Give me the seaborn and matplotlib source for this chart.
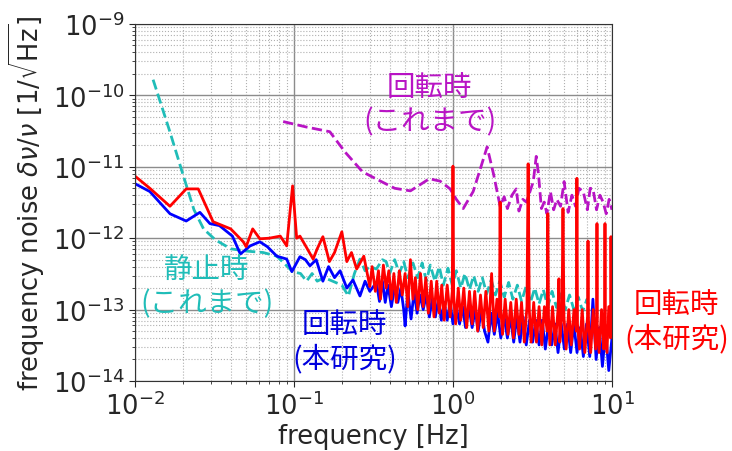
import numpy as np
import matplotlib
matplotlib.use("Agg")
import matplotlib.pyplot as plt
import seaborn as sns

sns.set_style("ticks")
plt.rcParams['font.family'] = ['DejaVu Sans', 'Noto Sans CJK JP']
plt.rcParams['mathtext.fontset'] = 'dejavusans'

JP = ['Noto Sans CJK JP', 'DejaVu Sans']

# --- 回転時(本研究) red ---
red_f = [0.010, 0.0124, 0.0166, 0.021, 0.025, 0.031, 0.040, 0.048, 0.050, 0.055,
         0.061, 0.070, 0.082, 0.090, 0.098, 0.104, 0.109, 0.118, 0.132, 0.140,
         0.152, 0.167, 0.180, 0.200, 0.215, 0.230, 0.248, 0.275,
         0.30, 0.31, 0.325, 0.34, 0.35, 0.365, 0.38, 0.395, 0.41, 0.425,
         0.44, 0.46, 0.48, 0.50, 0.52, 0.54, 0.56, 0.58, 0.60, 0.625,
         0.65, 0.675, 0.70, 0.73, 0.76, 0.79, 0.82, 0.85, 0.88, 0.92,
         0.96, 0.99, 1.00, 1.01, 1.04, 1.08, 1.12, 1.17, 1.22, 1.27,
         1.32, 1.37, 1.43, 1.49, 1.55, 1.61, 1.68, 1.75, 1.82, 1.89,
         1.96, 1.98, 2.00, 2.05, 2.13, 2.22, 2.31, 2.40, 2.50, 2.60,
         2.70, 2.81, 2.92, 2.97, 3.02, 3.10, 3.22, 3.35, 3.48, 3.62,
         3.76, 3.91, 3.95, 3.99, 4.07, 4.23, 4.40, 4.58, 4.64, 4.70,
         4.85, 4.92, 4.99, 5.15, 5.35, 5.55, 5.77, 5.97, 6.02, 6.07,
         6.25, 6.50, 6.75, 7.02, 7.07, 7.12, 7.35, 7.62, 7.90, 8.02,
         8.05, 8.08, 8.30, 8.60, 8.90, 9.01, 9.04, 9.07, 9.30, 9.55,
         9.80, 9.86, 9.92, 10.0]
red_noise = [7.4e-12, 5.0e-12, 2.8e-12, 4.9e-12, 4.9e-12, 1.7e-12, 1.35e-12, 8.9e-13, 7.6e-13, 1.35e-12,
             9.8e-13, 1.0e-12, 1.07e-12, 7.8e-13, 5.4e-12, 1.0e-12, 1.07e-12, 7.9e-13, 5.1e-13, 7.1e-13,
             1.05e-12, 4.7e-13, 6.3e-13, 1.23e-12, 4.7e-13, 6.3e-13, 3.7e-13, 5.6e-13,
             2.1e-13, 4.0e-13, 1.8e-13, 3.5e-13, 1.4e-13, 4.2e-13, 2.0e-13, 3.5e-13, 1.4e-13, 3.2e-13,
             1.26e-13, 3.5e-13, 1.6e-13, 3.2e-13, 1.1e-13, 5.0e-13, 1.4e-13, 2.8e-13, 1.0e-13, 3.2e-13,
             1.1e-13, 2.8e-13, 8.9e-14, 2.5e-13, 7.9e-14, 2.5e-13, 8.9e-14, 2.2e-13, 7.1e-14, 2.2e-13,
             7.9e-14, 1.8e-13, 1.02e-11, 1.6e-13, 6.3e-14, 2.0e-13, 7.1e-14, 2.0e-13, 5.6e-14, 1.8e-13,
             6.3e-14, 1.8e-13, 5.0e-14, 1.6e-13, 5.6e-14, 1.8e-13, 5.0e-14, 3.2e-13, 5.0e-14, 1.4e-13,
             7.9e-14, 3.2e-12, 1.0e-13, 4.5e-14, 1.4e-13, 4.5e-14, 1.26e-13, 4.0e-14, 1.4e-13, 4.5e-14,
             1.26e-13, 3.5e-14, 1.1e-13, 1.1e-11, 1.0e-13, 3.5e-14, 1.26e-13, 3.5e-14, 1.1e-13, 3.2e-14,
             1.1e-13, 5.0e-14, 2.2e-12, 7.9e-14, 3.2e-14, 1.1e-13, 3.2e-14, 1.0e-13, 2.7e-13, 3.5e-14,
             8.9e-14, 2.6e-12, 7.9e-14, 2.8e-14, 1.0e-13, 3.2e-14, 1.0e-13, 5.0e-14, 6.9e-12, 6.3e-14,
             2.8e-14, 1.0e-13, 2.5e-14, 7.9e-14, 9.1e-13, 7.1e-14, 2.5e-14, 1.0e-13, 2.8e-14, 7.1e-14,
             1.6e-12, 6.3e-14, 2.5e-14, 1.0e-13, 2.8e-14, 7.9e-14, 1.6e-12, 6.3e-14, 2.5e-14, 1.1e-13,
             4.0e-14, 1.05e-12, 1.0e-13, 2.5e-13]

# --- 回転時(本研究) blue ---
blue_f = [0.010, 0.0124, 0.0166, 0.021, 0.0256, 0.0296, 0.034, 0.041, 0.046, 0.053,
          0.061, 0.068, 0.078, 0.090, 0.097, 0.109, 0.118, 0.126, 0.138, 0.152,
          0.165, 0.180, 0.195, 0.215, 0.235, 0.26, 0.28, 0.30,
          0.33, 0.345, 0.36, 0.375, 0.39, 0.41, 0.43, 0.45, 0.47, 0.49,
          0.50, 0.52, 0.545, 0.57, 0.595, 0.62, 0.65, 0.68, 0.71, 0.74,
          0.775, 0.81, 0.845, 0.88, 0.92, 0.96, 1.0, 1.05, 1.1, 1.15,
          1.2, 1.26, 1.32, 1.38, 1.44, 1.51, 1.58, 1.66, 1.74, 1.82,
          1.91, 2.0, 2.1, 2.2, 2.3, 2.41, 2.52, 2.64, 2.76, 2.89,
          3.03, 3.17, 3.32, 3.48, 3.64, 3.81, 3.99, 4.18, 4.38, 4.58,
          4.8, 5.02, 5.26, 5.5, 5.76, 6.03, 6.32, 6.61, 6.92, 7.25,
          7.59, 7.95, 8.32, 8.71, 9.12, 9.55, 10.0]
blue_noise = [5.8e-12, 4.5e-12, 2.2e-12, 1.74e-12, 2.3e-12, 1.6e-12, 1.5e-12, 1.07e-12, 6.0e-13, 7.8e-13,
              8.9e-13, 7.6e-13, 5.6e-13, 5.1e-13, 3.4e-13, 5.5e-13, 5.0e-13, 4.1e-13, 5.0e-13, 2.5e-13,
              4.0e-13, 2.8e-13, 3.5e-13, 2.0e-13, 2.6e-13, 1.55e-13, 2.5e-13, 1.8e-13,
              2.4e-13, 1.3e-13, 2.5e-13, 1.26e-13, 2.2e-13, 1.1e-13, 2.1e-13, 1.26e-13, 2.0e-13, 1.0e-13,
              5.9e-14, 1.8e-13, 7.4e-14, 1.8e-13, 8.9e-14, 1.6e-13, 1.0e-13, 1.6e-13, 7.9e-14, 1.4e-13,
              7.9e-14, 1.4e-13, 7.1e-14, 1.26e-13, 7.1e-14, 1.26e-13, 6.3e-14, 1.1e-13, 6.3e-14, 1.1e-13,
              5.6e-14, 1.1e-13, 5.6e-14, 1.0e-13, 5.0e-14, 1.0e-13, 5.0e-14, 3.5e-14, 8.9e-14, 4.5e-14,
              8.9e-14, 4.0e-14, 7.9e-14, 4.0e-14, 7.9e-14, 3.5e-14, 7.9e-14, 3.5e-14, 7.9e-14, 3.2e-14,
              7.1e-14, 3.5e-14, 7.1e-14, 3.2e-14, 7.1e-14, 2.8e-14, 6.3e-14, 3.2e-14, 6.3e-14, 2.5e-14,
              6.3e-14, 2.8e-14, 6.3e-14, 2.5e-14, 6.3e-14, 2.5e-14, 5.6e-14, 2.2e-14, 6.3e-14, 2.2e-14,
              1.4e-13, 2.0e-14, 5.6e-14, 1.6e-14, 5.0e-14, 1.4e-14, 4.0e-14]

# --- 静止時(これまで) cyan ---
cyan_f = [0.013, 0.0165, 0.020, 0.0235, 0.027, 0.032, 0.040, 0.050, 0.064, 0.078,
          0.090, 0.098, 0.11, 0.12, 0.13, 0.14, 0.155, 0.175, 0.2, 0.22,
          0.24, 0.26, 0.28, 0.30, 0.33, 0.36, 0.38, 0.40, 0.43, 0.46,
          0.49, 0.52, 0.56, 0.60, 0.64, 0.68, 0.72, 0.77, 0.82, 0.87,
          0.93, 0.99, 1.05, 1.12, 1.19, 1.27, 1.35, 1.44, 1.53, 1.63,
          1.74, 1.85, 1.97, 2.1, 2.24, 2.38, 2.54, 2.7, 2.88, 3.07,
          3.27, 3.48, 3.7, 3.95, 4.2, 4.48, 4.77, 5.08, 5.41, 5.76,
          6.14, 6.54, 6.97, 7.2]
cyan_noise = [1.66e-10, 3.2e-11, 7.9e-12, 2.5e-12, 1.35e-12, 9.5e-13, 7.1e-13, 6.6e-13, 6.3e-13, 5.6e-13,
              4.1e-13, 3.4e-13, 3.2e-13, 2.5e-13, 3.2e-13, 2.5e-13, 2.8e-13, 2.5e-13, 2.2e-13, 1.55e-13,
              3.2e-13, 5.1e-13, 3.5e-13, 4.0e-13, 3.7e-13, 5.0e-13, 4.7e-13, 3.2e-13, 5.0e-13, 3.2e-13,
              4.7e-13, 2.8e-13, 4.5e-13, 2.8e-13, 4.5e-13, 2.5e-13, 4.2e-13, 2.5e-13, 4.0e-13, 2.2e-13,
              3.8e-13, 2.2e-13, 3.5e-13, 2.0e-13, 3.2e-13, 1.9e-13, 3.0e-13, 1.8e-13, 2.8e-13, 1.66e-13,
              2.6e-13, 1.6e-13, 2.5e-13, 1.5e-13, 2.4e-13, 1.4e-13, 2.2e-13, 1.3e-13, 2.1e-13, 1.26e-13,
              2.0e-13, 1.2e-13, 1.9e-13, 1.1e-13, 1.8e-13, 1.07e-13, 1.66e-13, 1.0e-13, 1.6e-13, 1.0e-13,
              1.5e-13, 9.5e-14, 1.4e-13, 1.0e-13]

# --- 回転時(これまで) magenta ---
mag_f = [0.0855, 0.12, 0.168, 0.21, 0.27, 0.35, 0.43, 0.54, 0.62, 0.71,
         0.83, 0.96, 1.05, 1.16, 1.34, 1.50, 1.64, 1.80, 1.98, 2.1,
         2.2, 2.35, 2.5, 2.6, 2.75, 2.9, 3.05, 3.2, 3.34, 3.45,
         3.6, 3.75, 3.9, 4.1, 4.3, 4.5, 4.75, 5.0, 5.3, 5.6,
         5.9, 6.2, 6.6, 7.0, 7.3, 7.6, 8.0, 8.4, 8.8, 9.2,
         9.6, 10.0]
mag_noise = [4.3e-11, 3.6e-11, 3.1e-11, 1.6e-11, 8.5e-12, 6.3e-12, 5.0e-12, 4.6e-12, 5.6e-12, 6.8e-12,
             6.3e-12, 4.9e-12, 3.5e-12, 2.6e-12, 4.5e-12, 1.0e-11, 1.9e-11, 7.9e-12, 2.8e-12, 3.8e-12,
             2.6e-12, 4.0e-12, 4.9e-12, 2.4e-12, 3.5e-12, 3.2e-12, 4.5e-12, 6.2e-12, 1.4e-11, 7.9e-12,
             2.6e-12, 3.2e-12, 2.2e-12, 4.5e-12, 2.5e-12, 3.5e-12, 2.8e-12, 6.2e-12, 2.3e-12, 4.0e-12,
             2.8e-12, 5.0e-12, 4.5e-12, 2.5e-12, 5.0e-12, 4.9e-12, 2.5e-12, 4.0e-12, 3.2e-12, 2.2e-12,
             3.5e-12, 2.5e-12]

fig = plt.figure(figsize=(7.32, 4.52), dpi=100)
ax = fig.add_axes([0.1844, 0.1549, 0.6516, 0.7898])

lw = 2.0
sns.lineplot(x=cyan_f, y=cyan_noise, ax=ax, color='#20bdb8', linestyle='--',
             linewidth=lw, estimator=None, sort=False)
sns.lineplot(x=mag_f, y=mag_noise, ax=ax, color='#b814c4', linestyle='--',
             linewidth=lw, estimator=None, sort=False)
sns.lineplot(x=blue_f, y=blue_noise, ax=ax, color='#0000ff',
             linewidth=lw, estimator=None, sort=False)
sns.lineplot(x=red_f, y=red_noise, ax=ax, color='#ff0000',
             linewidth=lw, estimator=None, sort=False)

ax.set_xscale('log')
ax.set_yscale('log')
ax.set_xlim(1e-2, 1e1)
ax.set_ylim(1e-14, 1e-9)

ax.grid(which='major', color='#8c8c8c', linestyle='-', linewidth=1.0)
ax.grid(which='minor', color='#b0b0b0', linestyle=':', linewidth=0.8)
ax.set_axisbelow(True)

ax.tick_params(axis='both', which='major', labelsize=18.5, length=4)
ax.tick_params(axis='both', which='minor', length=2)
for s in ax.spines.values():
    s.set_color('#333333')

ax.set_xlabel('frequency [Hz]', fontsize=18.5, labelpad=2)
ax.set_ylabel(r'frequency noise $\delta\nu/\nu$ [$1/\sqrt{\mathrm{Hz}}$]', fontsize=18.5,
              labelpad=4)

ax.text(0.618, 0.776, '回転時\n(これまで)', transform=ax.transAxes, ha='center', va='center',
        fontsize=20.5, color='#b814c4', family=JP)
ax.text(0.151, 0.266, '静止時\n(これまで)', transform=ax.transAxes, ha='center', va='center',
        fontsize=20.5, color='#20bdb8', family=JP)
ax.text(0.44, 0.112, '回転時\n(本研究)', transform=ax.transAxes, ha='center', va='center',
        fontsize=20.5, color='#0000dd', family=JP)
ax.text(1.136, 0.168, '回転時\n(本研究)', transform=ax.transAxes, ha='center', va='center',
        fontsize=20.5, color='#ff0000', family=JP, clip_on=False)

fig.savefig('out.png', dpi=100)
